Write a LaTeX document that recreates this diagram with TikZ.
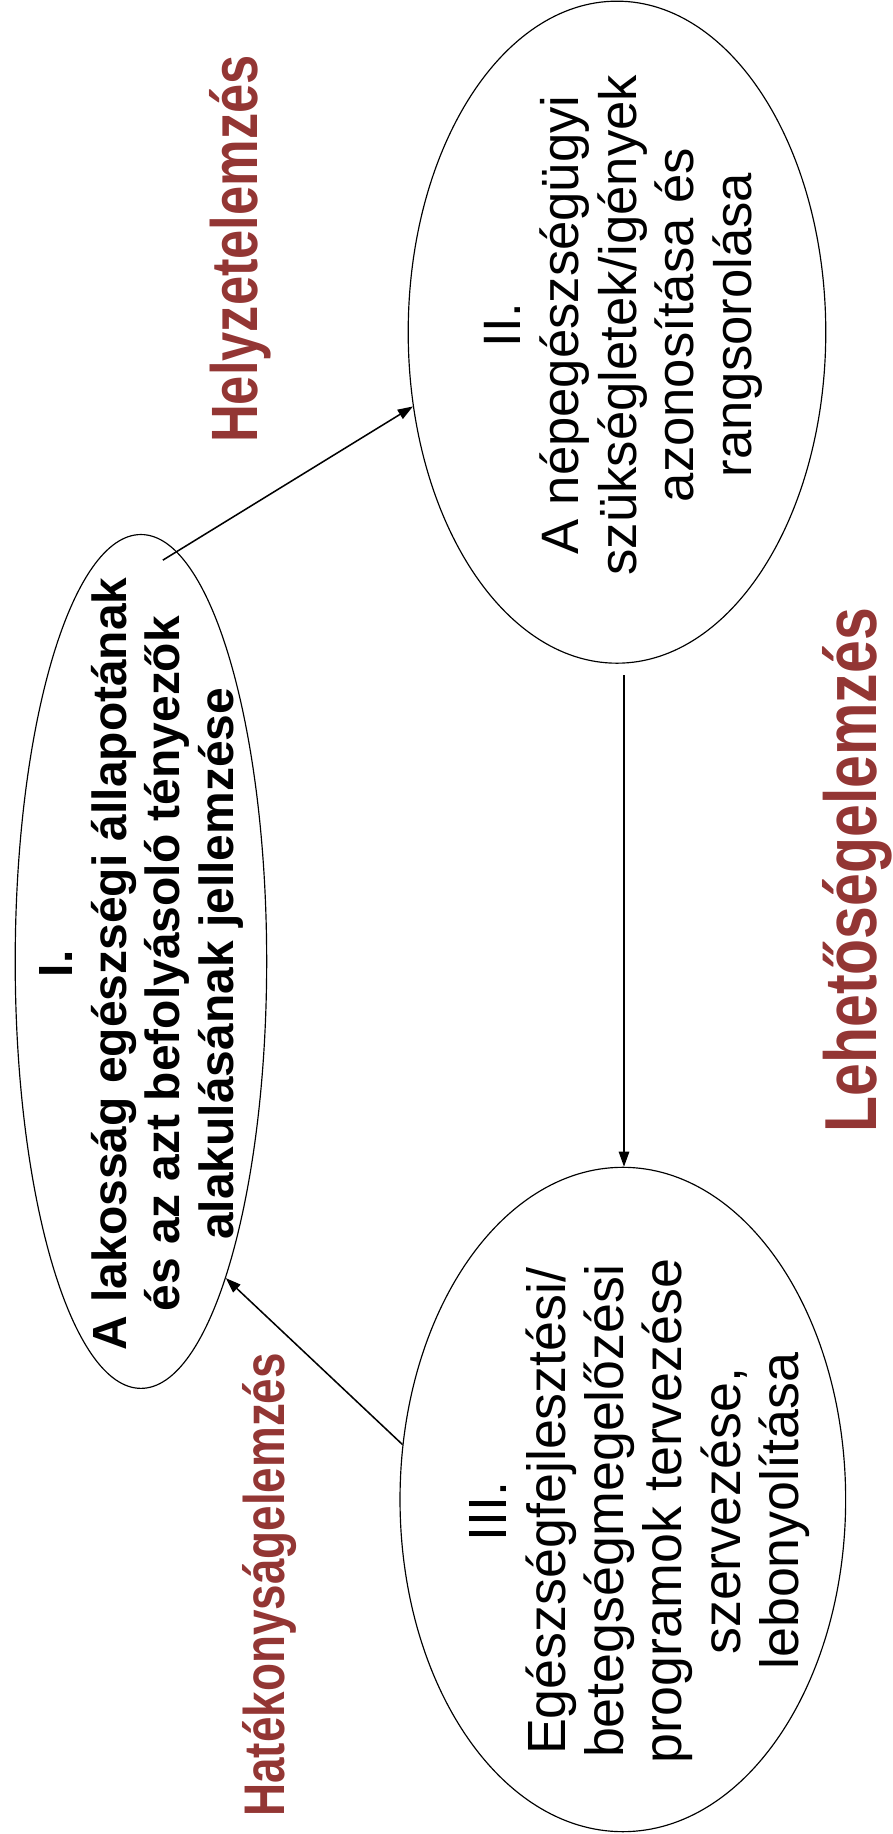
\documentclass[tikz,border=0pt]{standalone}
\usepackage{fontspec}
\setmainfont{Liberation Sans}
\newfontfamily\labelfont[FakeStretch=0.8]{Liberation Sans}
\usetikzlibrary{shapes.geometric,arrows.meta}
\definecolor{labelred}{RGB}{147,54,52}

\begin{document}
\begin{tikzpicture}[x=1pt, y=-1pt,
    bubble/.style={draw, ellipse, line width=1pt, inner sep=0pt},
    stagetext/.style={rotate=90, align=center, inner sep=0pt},
    phase/.style={rotate=90, anchor=base, inner sep=0pt, text=labelred, font=\labelfont\bfseries},
    flow/.style={line width=1.3pt, -{Triangle[length=13pt,width=9pt]}}]

    \useasboundingbox (0,0) rectangle (763,1568);

    % Ellipses
    \node[bubble, minimum width=215pt, minimum height=730pt] (e1) at (120.5,822) {};
    \node[bubble, minimum width=357pt, minimum height=566pt] (e2) at (527.5,284) {};
    \node[bubble, minimum width=381pt, minimum height=568pt] (e3) at (532.5,1282) {};

    % Texts inside the ellipses
    \node[stagetext, font=\bfseries\fontsize{41}{46}\selectfont] (t1) at (121,824)
        {I.\\A lakosság egészségi állapotának\\és az azt befolyásoló tényezők\\alakulásának jellemzése};
    \node[stagetext, font=\fontsize{45}{49.5}\selectfont] (t2) at (533,278)
        {II.\\A népegészségügyi\\szükségletek/igények\\azonosítása és\\rangsorolása};
    \node[stagetext, font=\fontsize{46}{50}\selectfont] (t3) at (547,1292)
        {III.\\Egészségfejlesztési/\\betegségmegelőzési\\programok tervezése\\szervezése,\\lebonyolítása};

    % Phase labels
    \node[phase, font=\labelfont\bfseries\fontsize{56}{60}\selectfont] (helyzet) at (220,213) {Helyzetelemzés};
    \node[phase, font=\labelfont\bfseries\fontsize{63}{67}\selectfont] (lehetoseg) at (749,744) {Lehetőségelemzés};
    \node[phase, font=\labelfont\bfseries\fontsize{49}{53}\selectfont] (hatekonysag) at (243,1355) {Hatékonyságelemzés};

    % Arrows between the stages
    \draw[flow, shorten <=-14pt] (e1.85) -- (e2.200);
    \draw[flow] ([xshift=6pt,yshift=-10pt]e2.south) -- ([xshift=6pt]e2.south |- e3.north);
    \draw[flow] (e3.166) -- (e1.285);

\end{tikzpicture}
\end{document}
